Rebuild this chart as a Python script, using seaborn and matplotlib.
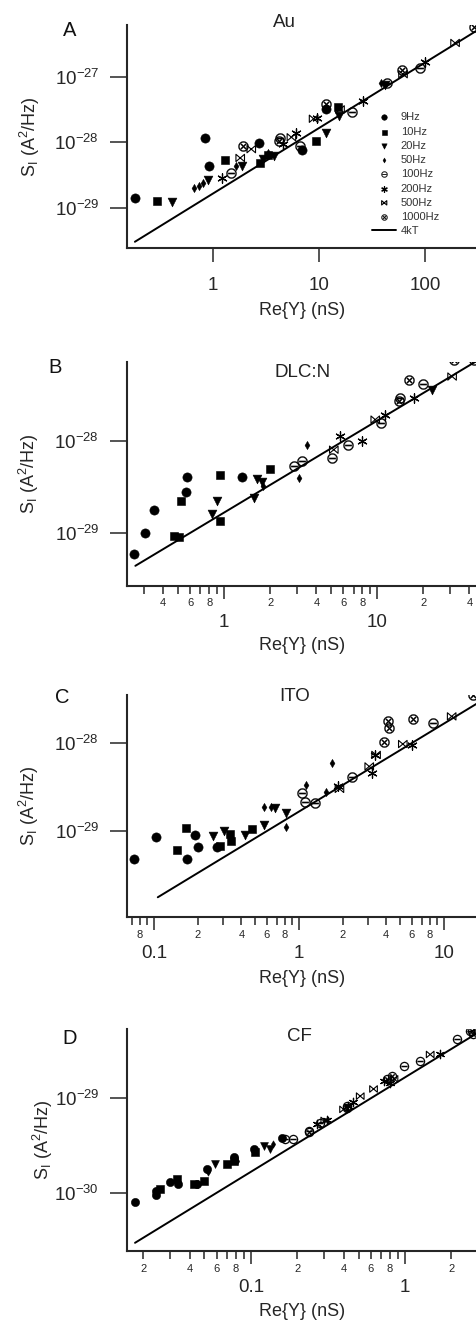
import numpy as np
import pandas as pd
import matplotlib
matplotlib.use("Agg")
import matplotlib.pyplot as plt
import matplotlib.ticker as mticker
from matplotlib.path import Path
import seaborn as sns

# ---------------- data (Re{Y} in nS, S_I in A^2/Hz) ----------------
FREQS = ["9Hz", "10Hz", "20Hz", "50Hz", "100Hz", "200Hz", "500Hz", "1000Hz"]
LINE_LABEL = "4kT"
TITLES = ["Au", "DLC:N", "ITO", "CF"]
LETTERS = ["A", "B", "C", "D"]

AU_G = {
    "9Hz": [0.184, 0.84, 0.91, 2.72, 6.9, 11.6],
    "10Hz": [0.30, 1.31, 2.77, 3.3, 9.4, 15.1],
    "20Hz": [0.41, 0.90, 1.9, 3.0, 3.76, 11.7, 15.5, 42],
    "50Hz": [0.66, 0.74, 0.80, 1.65, 3.3, 38.5],
    "100Hz": [1.48, 4.29, 6.6, 20.4, 43.6, 90],
    "200Hz": [1.22, 4.6, 6.1, 9.6, 26, 100],
    "500Hz": [1.81, 2.3, 5.5, 8.9, 15.8, 62, 192],
    "1000Hz": [1.92, 4.2, 11.7, 61, 290],
}
AU_S = {
    "9Hz": [1.42e-29, 1.17e-28, 4.4e-29, 9.7e-29, 7.8e-29, 3.2e-28],
    "10Hz": [1.28e-29, 5.4e-29, 4.9e-29, 6.5e-29, 1.07e-28, 3.5e-28],
    "20Hz": [1.23e-29, 2.7e-29, 4.3e-29, 5.5e-29, 6.3e-29, 1.38e-28, 2.5e-28, 7.6e-28],
    "50Hz": [2.0e-29, 2.2e-29, 2.4e-29, 4.4e-29, 7.0e-29, 8.1e-28],
    "100Hz": [3.4e-29, 1.15e-28, 8.9e-29, 2.9e-28, 8.1e-28, 1.37e-27],
    "200Hz": [2.9e-29, 9.5e-29, 1.38e-28, 2.4e-28, 4.3e-28, 1.7e-27],
    "500Hz": [5.8e-29, 7.9e-29, 1.2e-28, 2.3e-28, 3.2e-28, 1.1e-27, 3.3e-27],
    "1000Hz": [8.9e-29, 1.07e-28, 3.9e-28, 1.27e-27, 5.7e-27],
}

DLC_G = {
    "9Hz": [0.259, 0.306, 0.35, 0.565, 0.575, 1.31],
    "10Hz": [0.469, 0.506, 0.526, 0.946, 0.946, 1.99],
    "20Hz": [0.835, 0.90, 1.56, 1.63, 1.77, 22.8],
    "50Hz": [1.8, 3.06, 3.48],
    "100Hz": [2.84, 3.22, 5.06, 6.4, 10.5, 14.1, 19.9],
    "200Hz": [5.73, 7.94, 11.3, 17.3],
    "500Hz": [5.2, 9.7, 30.8],
    "1000Hz": [13.8, 16.0, 31.6, 42.6],
}
DLC_S = {
    "9Hz": [5.9e-30, 1.0e-29, 1.76e-29, 2.77e-29, 4.0e-29, 4.0e-29],
    "10Hz": [9.3e-30, 9.0e-30, 2.2e-29, 4.2e-29, 1.33e-29, 4.9e-29],
    "20Hz": [1.6e-29, 2.2e-29, 2.4e-29, 3.8e-29, 3.6e-29, 3.6e-28],
    "50Hz": [3.2e-29, 3.9e-29, 9.1e-29],
    "100Hz": [5.3e-29, 6.0e-29, 6.5e-29, 9.1e-29, 1.56e-28, 2.9e-28, 4.1e-28],
    "200Hz": [1.12e-28, 9.9e-29, 1.9e-28, 2.9e-28],
    "500Hz": [8.0e-29, 1.7e-28, 5.0e-28],
    "1000Hz": [2.7e-28, 4.6e-28, 7.6e-28, 7.6e-28],
}

ITO_G = {
    "9Hz": [0.0731, 0.1037, 0.169, 0.193, 0.201, 0.272],
    "10Hz": [0.144, 0.167, 0.285, 0.336, 0.34, 0.474],
    "20Hz": [0.255, 0.302, 0.427, 0.571, 0.687, 0.818],
    "50Hz": [0.571, 0.641, 0.818, 1.12, 1.54, 1.68],
    "100Hz": [1.04, 1.1, 1.29, 2.31, 8.4],
    "200Hz": [1.87, 3.17, 3.34, 6.0],
    "500Hz": [1.9, 3.05, 3.4, 5.2, 11.3],
    "1000Hz": [3.86, 4.13, 4.2, 6.14, 15.8],
}
ITO_S = {
    "9Hz": [4.8e-30, 8.6e-30, 4.8e-30, 9.0e-30, 6.6e-30, 6.6e-30],
    "10Hz": [6.1e-30, 1.07e-29, 6.8e-30, 9.3e-30, 7.6e-30, 1.05e-29],
    "20Hz": [8.8e-30, 1.0e-29, 9.0e-30, 1.17e-29, 1.8e-29, 1.59e-29],
    "50Hz": [1.86e-29, 1.89e-29, 1.12e-29, 3.3e-29, 2.8e-29, 5.9e-29],
    "100Hz": [2.7e-29, 2.15e-29, 2.1e-29, 4.1e-29, 1.67e-28],
    "200Hz": [3.2e-29, 4.6e-29, 7.3e-29, 9.5e-29],
    "500Hz": [3.0e-29, 5.4e-29, 7.3e-29, 9.7e-29, 2.0e-28],
    "1000Hz": [1.03e-28, 1.78e-28, 1.49e-28, 1.87e-28, 3.5e-28],
}

CF_G = {
    "9Hz": [0.01774, 0.0243, 0.0244, 0.0299, 0.0339, 0.0446, 0.0518, 0.0773, 0.1042, 0.159],
    "10Hz": [0.0258, 0.0331, 0.0425, 0.0493, 0.0699, 0.0773, 0.1067],
    "20Hz": [0.0586, 0.121, 0.133],
    "50Hz": [0.053, 0.081, 0.14],
    "100Hz": [0.167, 0.189, 0.237, 0.28, 0.42, 0.98, 1.26, 2.18, 2.66],
    "200Hz": [0.268, 0.312, 0.43, 0.46, 0.727, 0.803, 1.69],
    "500Hz": [0.302, 0.40, 0.513, 0.626, 0.85, 1.46],
    "1000Hz": [0.237, 0.42, 0.764, 0.82, 2.74, 2.79],
}
CF_S = {
    "9Hz": [7.9e-31, 9.3e-31, 1.05e-30, 1.29e-30, 1.23e-30, 1.23e-30, 1.78e-30, 2.36e-30, 2.89e-30, 3.8e-30],
    "10Hz": [1.09e-30, 1.39e-30, 1.23e-30, 1.34e-30, 2.0e-30, 2.18e-30, 2.67e-30],
    "20Hz": [2.0e-30, 3.1e-30, 2.89e-30],
    "50Hz": [1.64e-30, 2.18e-30, 3.26e-30],
    "100Hz": [3.7e-30, 3.7e-30, 4.5e-30, 5.4e-30, 8.3e-30, 2.19e-29, 2.45e-29, 4.2e-29, 5.1e-29],
    "200Hz": [5.3e-30, 5.8e-30, 8.3e-30, 9.0e-30, 1.52e-29, 1.46e-29, 2.9e-29],
    "500Hz": [5.8e-30, 7.6e-30, 1.05e-29, 1.25e-29, 1.6e-29, 2.9e-29],
    "1000Hz": [4.4e-30, 7.9e-30, 1.58e-29, 1.7e-29, 5.1e-29, 4.8e-29],
}

# 4kT reference line end points (Re{Y}, S_I)
AU_LINE_G, AU_LINE_S = [0.184, 320], [3.05e-30, 5.3e-27]
DLC_LINE_G, DLC_LINE_S = [0.263, 46], [4.36e-30, 7.62e-28]
ITO_LINE_G, ITO_LINE_S = [0.106, 17.5], [1.76e-30, 2.9e-28]
CF_LINE_G, CF_LINE_S = [0.0177, 3.0], [2.93e-31, 4.97e-29]

# axis limits
AU_XLIM, AU_YLIM = (0.155, 309), (2.45e-30, 6.2e-27)
DLC_XLIM, DLC_YLIM = (0.232, 44.8), (2.63e-30, 7.2e-28)
ITO_XLIM, ITO_YLIM = (0.065, 16.9), (1.05e-30, 3.5e-28)
CF_XLIM, CF_YLIM = (0.0157, 2.94), (2.4e-31, 5.4e-29)

# ---------------- style ----------------
sns.set_style("ticks")
plt.rcParams["font.family"] = ["Liberation Sans", "DejaVu Sans"]
plt.rcParams["axes.linewidth"] = 1.5

BOWTIE = Path(
    [(-1, -0.85), (-1, 0.85), (0, 0), (1, 0.85), (1, -0.85), (0, 0), (-1, -0.85)],
    [Path.MOVETO, Path.LINETO, Path.LINETO, Path.LINETO, Path.LINETO, Path.LINETO, Path.CLOSEPOLY],
)

STYLE = {
    "9Hz": dict(marker="o", s=44, color="k", edgecolor="k", linewidth=0.4),
    "10Hz": dict(marker="s", s=36, color="k", edgecolor="k", linewidth=0.4),
    "20Hz": dict(marker="v", s=40, color="k", edgecolor="k", linewidth=0.4),
    "50Hz": dict(marker="d", s=18, color="k", edgecolor="k", linewidth=0.3),
    "100Hz": dict(marker="$\\ominus$", s=55, color="k", edgecolor="k", linewidth=0.15),
    "200Hz": dict(marker=(6, 2, 0), s=45, color="k", linewidth=0.9),
    "500Hz": dict(marker=BOWTIE, s=38, facecolor="none", edgecolor="k", linewidth=0.8),
    "1000Hz": dict(marker="$\\otimes$", s=55, color="k", edgecolor="k", linewidth=0.15),
}

W, H = 477, 1322
fig = plt.figure(figsize=(W / 100, H / 100), dpi=100)

panels = [
    dict(top=25, bot=248, G=AU_G, S=AU_S, lg=AU_LINE_G, ls=AU_LINE_S, xlim=AU_XLIM, ylim=AU_YLIM,
         title_xy=(0.451, 1.01), letter_xy=(70, 31), minor=False, mscale=1.0,
         xlab_y=-0.242, ylab_x=-0.243, legend=True),
    dict(top=362, bot=586, G=DLC_G, S=DLC_S, lg=DLC_LINE_G, ls=DLC_LINE_S, xlim=DLC_XLIM, ylim=DLC_YLIM,
         title_xy=(0.503, 0.951), letter_xy=(55, 367), minor=True, mscale=1.0,
         xlab_y=-0.228, ylab_x=-0.246, legend=False),
    dict(top=695, bot=917, G=ITO_G, S=ITO_S, lg=ITO_LINE_G, ls=ITO_LINE_S, xlim=ITO_XLIM, ylim=ITO_YLIM,
         title_xy=(0.48, 0.991), letter_xy=(62, 697), minor=True, mscale=1.0,
         xlab_y=-0.239, ylab_x=-0.246, legend=False),
    dict(top=1029, bot=1251, G=CF_G, S=CF_S, lg=CF_LINE_G, ls=CF_LINE_S, xlim=CF_XLIM, ylim=CF_YLIM,
         title_xy=(0.494, 0.964), letter_xy=(70, 1038), minor=True, mscale=0.8,
         xlab_y=-0.234, ylab_x=-0.206, legend=False),
]

LEFT = 127


def decades(lo, hi):
    ks = range(int(np.floor(np.log10(lo))), int(np.ceil(np.log10(hi))) + 1)
    return [10.0 ** k for k in ks if lo <= 10.0 ** k <= hi]


def minors(lo, hi):
    out = []
    for k in range(int(np.floor(np.log10(lo))), int(np.ceil(np.log10(hi))) + 1):
        for m in range(2, 10):
            v = m * 10.0 ** k
            if lo <= v <= hi:
                out.append(v)
    return out


def minor_fmt(v, pos):
    if v <= 0:
        return ""
    d = int(round(v / 10 ** np.floor(np.log10(v) + 1e-9)))
    return str(d) if d in (2, 4, 6, 8) else ""


for i, p in enumerate(panels):
    ax = fig.add_axes([LEFT / W, 1 - p["bot"] / H, (W - LEFT) / W, (p["bot"] - p["top"]) / H])
    ax.set_xscale("log")
    ax.set_yscale("log")

    for f in FREQS:
        df = pd.DataFrame({"G": p["G"][f], "S": p["S"][f]})
        kw = dict(STYLE[f])
        kw["s"] = kw["s"] * p["mscale"]
        sns.scatterplot(data=df, x="G", y="S", ax=ax, label=f if p["legend"] else None,
                        legend=False, zorder=3, **kw)
    ldf = pd.DataFrame({"G": p["lg"], "S": p["ls"]})
    sns.lineplot(data=ldf, x="G", y="S", ax=ax, color="k", linewidth=1.4,
                 label=LINE_LABEL if p["legend"] else None, legend=False, zorder=2)

    ax.set_xlim(*p["xlim"])
    ax.set_ylim(*p["ylim"])
    sns.despine(ax=ax)

    # y axis
    ax.yaxis.set_major_locator(mticker.FixedLocator(decades(*p["ylim"])))
    ax.yaxis.set_major_formatter(mticker.LogFormatterSciNotation())
    ax.yaxis.set_minor_locator(mticker.NullLocator())
    ax.tick_params(axis="y", which="major", length=12, width=1.1, labelsize=13.5, pad=8)

    # x axis
    ax.xaxis.set_major_locator(mticker.FixedLocator(decades(*p["xlim"])))
    ax.xaxis.set_major_formatter(mticker.FuncFormatter(lambda v, pos: f"{v:g}"))
    if p["minor"]:
        ax.xaxis.set_minor_locator(mticker.FixedLocator(minors(*p["xlim"])))
        ax.xaxis.set_minor_formatter(mticker.FuncFormatter(minor_fmt))
        ax.tick_params(axis="x", which="major", length=9, width=1.1, labelsize=13.5, pad=11)
        ax.tick_params(axis="x", which="minor", length=5.5, width=1.1, labelsize=8, pad=3.5)
    else:
        ax.xaxis.set_minor_locator(mticker.NullLocator())
        ax.tick_params(axis="x", which="major", length=10, width=1.1, labelsize=13.5, pad=11)

    ax.set_xlabel("Re{Y} (nS)", fontsize=13)
    ax.xaxis.set_label_coords(0.5, p["xlab_y"])
    ax.set_ylabel(r"S$_\mathregular{I}$ (A$^\mathregular{2}$/Hz)", fontsize=13)
    ax.yaxis.set_label_coords(p["ylab_x"], 0.5)

    ax.text(p["title_xy"][0], p["title_xy"][1], TITLES[i], transform=ax.transAxes,
            ha="center", va="center", fontsize=13.5, color="#222222")
    fig.text(p["letter_xy"][0] / W, 1 - p["letter_xy"][1] / H, LETTERS[i],
             ha="center", va="center", fontsize=14.5, color="#111111")

    if p["legend"]:
        handles, labels = ax.get_legend_handles_labels()
        ax.legend(handles, labels, loc="upper left", bbox_to_anchor=(0.70, 0.608),
                  frameon=False, fontsize=8, labelspacing=0.38, handlelength=2.2,
                  handletextpad=0.4, borderpad=0, borderaxespad=0, markerscale=0.6,
                  labelcolor="#333333")
    else:
        leg = ax.get_legend()
        if leg is not None:
            leg.remove()

fig.savefig("out.png", dpi=100)
